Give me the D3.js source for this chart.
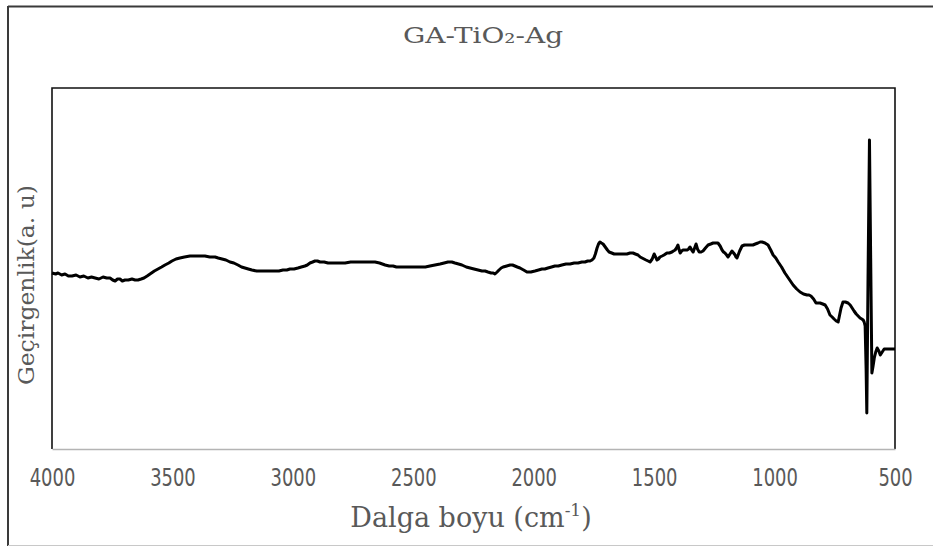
<!DOCTYPE html>
<html><head><meta charset="utf-8">
<script src="https://cdn.jsdelivr.net/npm/d3@7/dist/d3.min.js"></script>
<style>body{margin:0;background:#fff}svg{display:block}</style>
</head><body>
<svg id="c" width="933" height="547"></svg>
<script>
// ---- data ----
const chartTitle = "GA-TiO₂-Ag";
const xAxisTitle = "Dalga boyu (cm";
const xAxisSup = "-1";
const yAxisTitle = "Geçirgenlik(a. u)";
const xTickValues = [4000, 3500, 3000, 2500, 2000, 1500, 1000, 500];

const wavenumber = [
  4000, 3985, 3975, 3960, 3946, 3932, 3917, 3900, 3884, 3868, 3851, 3836, 3821, 3805, 3788, 3773, 3759, 3748, 3738, 3728,
  3718, 3708, 3697, 3683, 3668, 3655, 3643, 3630, 3618, 3605, 3593, 3575, 3560, 3545, 3531, 3515, 3502, 3485, 3469, 3450,
  3427, 3410, 3394, 3380, 3365, 3345, 3323, 3310, 3294, 3278, 3261, 3245, 3228, 3213, 3199, 3185, 3170, 3150, 3136, 3120,
  3103, 3090, 3074, 3058, 3041, 3025, 3012, 2995, 2979, 2965, 2950, 2940, 2929, 2918, 2908, 2898, 2887, 2870, 2854, 2840,
  2825, 2805, 2783, 2760, 2740, 2721, 2700, 2680, 2659, 2640, 2617, 2600, 2584, 2570, 2555, 2535, 2514, 2492, 2472, 2450,
  2431, 2410, 2389, 2372, 2356, 2340, 2327, 2312, 2298, 2280, 2264, 2248, 2231, 2215, 2202, 2190, 2177, 2168, 2161, 2152,
  2144, 2135, 2127, 2112, 2098, 2088, 2078, 2068, 2057, 2042, 2028, 2012, 1995, 1980, 1966, 1954, 1941, 1926, 1912, 1898,
  1883, 1866, 1849, 1832, 1816, 1800, 1787, 1776, 1766, 1758, 1750, 1744, 1737, 1731, 1725, 1719, 1712, 1706, 1700, 1694,
  1687, 1676, 1666, 1654, 1642, 1628, 1613, 1600, 1588, 1578, 1567, 1558, 1550, 1542, 1534, 1525, 1517, 1508, 1500, 1494,
  1488, 1482, 1476, 1467, 1459, 1453, 1447, 1437, 1426, 1420, 1413, 1407, 1401, 1396, 1392, 1386, 1380, 1372, 1363, 1357,
  1351, 1344, 1338, 1332, 1326, 1320, 1313, 1305, 1297, 1287, 1276, 1265, 1255, 1245, 1235, 1226, 1218, 1212, 1206, 1199,
  1193, 1185, 1177, 1170, 1164, 1160, 1156, 1145, 1135, 1125, 1115, 1102, 1090, 1080, 1069, 1060, 1052, 1040, 1027, 1016,
  1006, 995, 985, 971, 957, 940, 923, 908, 894, 880, 865, 857, 849, 838, 828, 820, 811, 800, 790, 780,
  770, 761, 753, 744, 736, 730, 724, 720, 716, 706, 695, 686, 678, 670, 661, 653, 645, 638, 632, 628,
  624, 620, 617, 612, 606, 601, 596, 591, 586, 580, 574, 567, 561, 553, 545, 536, 528, 514, 500
];
const transmittance = [
  175, 174, 175, 173, 174, 172, 172, 173, 171, 172, 170, 171, 170, 169, 171, 170, 170, 168, 167, 169,
  169, 167, 168, 168, 169, 168, 168, 169, 170, 172, 174, 177, 179, 181, 183, 185, 187, 189, 190, 191,
  192, 192, 192, 192, 192, 191, 191, 190, 189, 188, 186, 185, 183, 181, 180, 179, 178, 177, 177, 177,
  177, 177, 177, 177, 178, 178, 179, 179, 180, 181, 182, 183, 185, 186, 187, 187, 186, 186, 185, 185,
  185, 185, 185, 186, 186, 186, 186, 186, 186, 185, 183, 182, 182, 181, 181, 181, 181, 181, 181, 181,
  182, 183, 184, 185, 186, 186, 185, 184, 183, 181, 180, 179, 178, 177, 177, 176, 175, 175, 174, 176,
  178, 180, 181, 182, 183, 183, 182, 181, 180, 178, 176, 176, 177, 178, 179, 179, 180, 181, 182, 182,
  183, 184, 184, 185, 185, 186, 186, 187, 187, 188, 190, 194, 200, 204, 206, 205, 204, 202, 200, 198,
  196, 195, 194, 194, 194, 194, 194, 195, 195, 194, 193, 191, 190, 189, 188, 187, 186, 189, 194, 191,
  188, 189, 191, 192, 193, 194, 195, 195, 196, 197, 198, 200, 203, 198, 195, 197, 198, 198, 198, 199,
  201, 198, 196, 200, 204, 199, 196, 196, 197, 200, 203, 204, 205, 205, 205, 202, 198, 196, 195, 193,
  191, 194, 197, 195, 193, 191, 190, 197, 202, 203, 203, 203, 203, 204, 205, 206, 206, 205, 203, 198,
  193, 190, 186, 181, 175, 169, 163, 159, 156, 154, 153, 153, 152, 149, 145, 145, 145, 144, 143, 139,
  133, 131, 129, 127, 126, 133, 140, 143, 146, 146, 145, 143, 140, 137, 134, 132, 130, 129, 128, 126,
  122, 80, 35, 170, 308, 190, 75, 82, 90, 96, 100, 97, 93, 96, 99, 99, 99, 99, 99
];

// ---- layout ----
const svg = d3.select("#c");
const W = 933, H = 547;
const plot = {left: 52, top: 88, right: 895, bottom: 449};

const x = d3.scaleLinear().domain([4000, 500]).range([plot.left, plot.right]);
const y = d3.scaleLinear().domain([0, 360]).range([448, 88]);

// outer frame
svg.append("rect").attr("x", 0).attr("y", 0).attr("width", W).attr("height", H).attr("fill", "#fff");
svg.append("line").attr("x1", 8).attr("x2", W).attr("y1", 6.5).attr("y2", 6.5)
  .attr("stroke", "#3a3a3a").attr("stroke-width", 2);
svg.append("line").attr("x1", 8).attr("x2", 8).attr("y1", 6).attr("y2", 546)
  .attr("stroke", "#3a3a3a").attr("stroke-width", 2);
svg.append("line").attr("x1", 8).attr("x2", W).attr("y1", 545.5).attr("y2", 545.5)
  .attr("stroke", "#c8c8c8").attr("stroke-width", 1);

// plot frame (top, left, right dark; bottom axis gray)
svg.append("path")
  .attr("d", `M${plot.left},${plot.bottom} V${plot.top} H${plot.right} V${plot.bottom}`)
  .attr("fill", "none").attr("stroke", "#111").attr("stroke-width", 1.6);

// x axis
const xAxis = d3.axisBottom(x).tickValues(xTickValues).tickSize(0).tickPadding(0).tickFormat(d3.format("d"));
const gx = svg.append("g").attr("transform", `translate(0,${plot.bottom})`).call(xAxis);
gx.select(".domain").attr("stroke", "#b4b4b4").attr("stroke-width", 1.5);
gx.selectAll("text")
  .attr("dy", null).attr("y", 37)
  .attr("fill", "#595959")
  .attr("font-family", "'Liberation Sans Narrow', 'DejaVu Sans Condensed', 'Liberation Sans', sans-serif")
  .attr("font-size", 24)
  .attr("textLength", d => String(d).length * 11.4)
  .attr("lengthAdjust", "spacingAndGlyphs");

// line
const pts = wavenumber.map((w, i) => [w, transmittance[i]]);
const line = d3.line().x(d => x(d[0])).y(d => y(d[1]));
svg.append("path").datum(pts)
  .attr("d", line)
  .attr("fill", "none").attr("stroke", "#000").attr("stroke-width", 3)
  .attr("stroke-linejoin", "round").attr("stroke-linecap", "butt");

// titles
const serif = "'DejaVu Serif', 'Liberation Serif', serif";
svg.append("text").attr("x", 483).attr("y", 43).attr("text-anchor", "middle")
  .attr("font-family", serif).attr("font-size", 23).attr("fill", "#595959")
  .attr("textLength", 160).attr("lengthAdjust", "spacingAndGlyphs")
  .text(chartTitle);

const xt = svg.append("text").attr("x", 471).attr("y", 527).attr("text-anchor", "middle")
  .attr("font-family", serif).attr("font-size", 27).attr("fill", "#595959");
xt.append("tspan").text(xAxisTitle);
xt.append("tspan").attr("font-size", 17).attr("dy", -11).text(xAxisSup);
xt.append("tspan").attr("dy", 11).text(")");

svg.append("text")
  .attr("transform", `translate(34,285) rotate(-90)`)
  .attr("text-anchor", "middle")
  .attr("font-family", serif).attr("font-size", 23).attr("fill", "#595959")
  .attr("textLength", 200).attr("lengthAdjust", "spacingAndGlyphs")
  .text(yAxisTitle);
</script>
</body></html>
